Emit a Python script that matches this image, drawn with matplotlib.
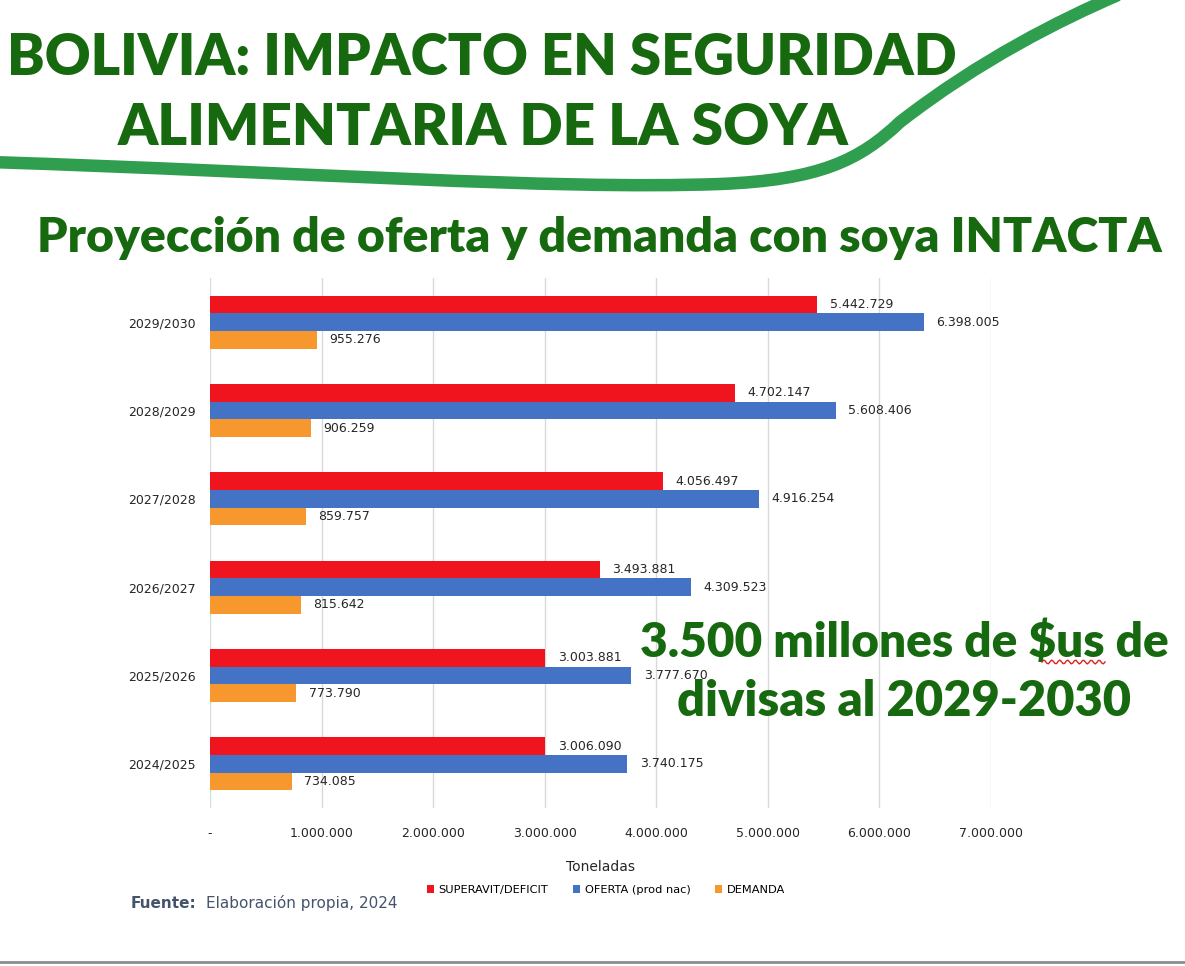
import matplotlib
matplotlib.use('Agg')
import matplotlib.pyplot as plt
from matplotlib.path import Path
from matplotlib.patches import PathPatch
from matplotlib.ticker import FuncFormatter
import numpy as np

years = ['2024/2025', '2025/2026', '2026/2027', '2027/2028', '2028/2029', '2029/2030']
superavit = [3006090, 3003881, 3493881, 4056497, 4702147, 5442729]
oferta = [3740175, 3777670, 4309523, 4916254, 5608406, 6398005]
demanda = [734085, 773790, 815642, 859757, 906259, 955276]

RED = '#F0141E'
BLUE = '#4472C4'
ORANGE = '#F7982F'
GREEN = '#17690F'
TXT = '#262626'
HEAD = ['Lato', 'DejaVu Sans']

W, H = 1185, 966


def fx(px):
    return px / W


def fy(py):
    return 1 - py / H


def fmt(v):
    return f"{int(v):,}".replace(',', '.')


fig = plt.figure(figsize=(W / 100, H / 100), dpi=100)
renderer = fig.canvas.get_renderer()


def fit(t, width_px):
    # scale the font so the text spans the same width as in the reference
    bb = t.get_window_extent(renderer)
    t.set_fontsize(t.get_fontsize() * width_px / bb.width)


# green swoosh in the header
verts = [(fx(-10), fy(162)), (fx(300), fy(172)), (fx(550), fy(190)), (fx(720), fy(184)),
         (fx(820), fy(180)), (fx(860), fy(160)), (fx(900), fy(122)),
         (fx(980), fy(60)), (fx(1060), fy(20)), (fx(1118), fy(-5))]
codes = [Path.MOVETO] + [Path.CURVE4] * 9
fig.patches.append(PathPatch(Path(verts, codes), transform=fig.transFigure,
                             fill=False, edgecolor='#2F9E4E', lw=9, capstyle='butt'))

t1 = fig.text(fx(482), fy(58), 'BOLIVIA: IMPACTO EN SEGURIDAD', ha='center', va='center',
              fontsize=40, fontweight='heavy', color=GREEN, family=HEAD)
t2 = fig.text(fx(483), fy(128), 'ALIMENTARIA DE LA SOYA', ha='center', va='center',
              fontsize=40, fontweight='heavy', color=GREEN, family=HEAD)
t3 = fig.text(fx(599), fy(238), 'Proyección de oferta y demanda con soya INTACTA', ha='center',
              va='center', fontsize=30, fontweight='heavy', color=GREEN, family=HEAD)
fit(t1, 947)
fit(t2, 730)
fit(t3, 1122)

ax = fig.add_axes([fx(210), fy(808), fx(991) - fx(210), fy(278) - fy(808)])

y = np.arange(len(years))
h = 0.2
b1 = ax.barh(y + h, superavit, h, color=RED, label='SUPERAVIT/DEFICIT')
b2 = ax.barh(y, oferta, h, color=BLUE, label='OFERTA (prod nac)')
b3 = ax.barh(y - h, demanda, h, color=ORANGE, label='DEMANDA')
for bars in (b1, b2, b3):
    ax.bar_label(bars, labels=[fmt(v) for v in bars.datavalues], padding=9,
                 fontsize=9, color=TXT)

ax.set_xlim(0, 7000000)
ax.set_ylim(-0.5, len(years) - 0.5)
ax.set_yticks(y)
ax.set_yticklabels(years, fontsize=9, color=TXT)
ax.set_xticks(np.arange(0, 7000001, 1000000))
ax.xaxis.set_major_formatter(FuncFormatter(lambda v, p: '-' if v == 0 else fmt(v)))
ax.tick_params(axis='x', length=0, pad=14, labelsize=9, labelcolor=TXT)
ax.tick_params(axis='y', length=0, pad=10)
ax.grid(axis='x', color='#D9D9D9', lw=1)
ax.set_axisbelow(True)
for s in ax.spines.values():
    s.set_visible(False)
ax.set_xlabel('Toneladas', fontsize=10, color=TXT, labelpad=14)

fig.legend(handles=[b1, b2, b3], loc='center', bbox_to_anchor=(fx(606), fy(890)), ncol=3,
           frameon=False, handlelength=0.6, handleheight=0.6, handletextpad=0.4,
           columnspacing=2.2, prop={'size': 8.2})

fig.text(fx(131), fy(903), 'Fuente:', ha='left', va='center', fontsize=11,
         fontweight='bold', color='#44546A')
fig.text(fx(206), fy(903), 'Elaboración propia, 2024', ha='left', va='center', fontsize=11,
         color='#44546A')

a1 = fig.text(fx(904), fy(643), '3.500 millones de $us de', ha='center', va='center',
              fontsize=28, fontweight='heavy', color=GREEN, family=HEAD)
a2 = fig.text(fx(904), fy(701), 'divisas al 2029-2030', ha='center', va='center',
              fontsize=28, fontweight='heavy', color=GREEN, family=HEAD)
fit(a1, 528)
fit(a2, 452)

# spell-check squiggle under "us"
sx = np.linspace(fx(1042), fx(1105), 40)
sy = fy(662) + 0.002 * np.sin(np.linspace(0, 16 * np.pi, 40))
fig.add_artist(plt.Line2D(sx, sy, color='#E0201C', lw=1, transform=fig.transFigure))

fig.add_artist(plt.Line2D([0, 1], [fy(962), fy(962)], color='#8C8C8C', lw=2,
                          transform=fig.transFigure))

fig.savefig('out.png', dpi=100)
